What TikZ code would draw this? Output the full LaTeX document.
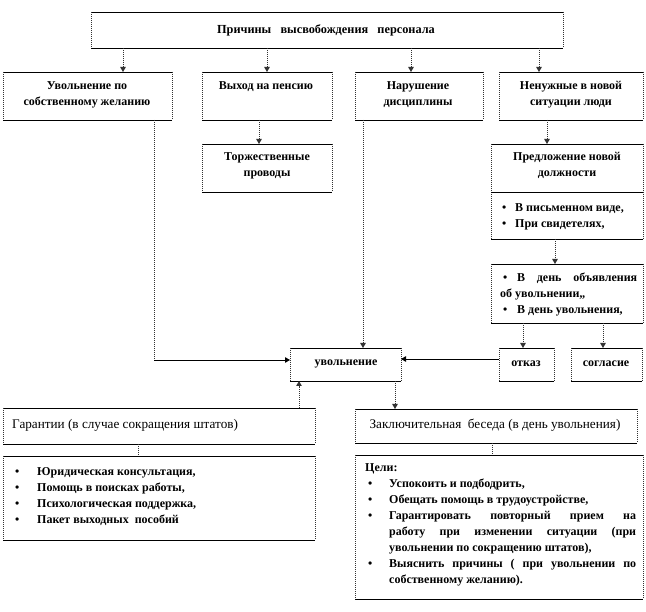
\documentclass[tikz,border=0pt]{standalone}
\usepackage{fontspec}
\setmainfont{Liberation Serif}
\usetikzlibrary{arrows.meta,fit}
\newcommand\hitem[1]{\noindent\hangindent=#1\hangafter=1\makebox[#1][l]{\hspace{3pt}•}}
\begin{document}
\begin{tikzpicture}[x=1pt,y=-1pt,
  hl/.style={draw=black, line width=0.9pt},
  vl/.style={draw=black!80, line width=0.9pt, dash pattern=on 1pt off 1pt},
  bx/.style={inner sep=0pt, outer sep=0pt, append after command={
     (\tikzlastnode.north west) edge[hl] (\tikzlastnode.north east)
     (\tikzlastnode.south west) edge[hl] (\tikzlastnode.south east)
     (\tikzlastnode.north west) edge[vl] (\tikzlastnode.south west)
     (\tikzlastnode.north east) edge[vl] (\tikzlastnode.south east)}},
  tip/.style={-{Triangle[length=5pt,width=5.5pt]}},
  vc/.style={vl, tip},
  hc/.style={hl, tip},
  tb/.style={inner sep=0pt, align=center, font=\bfseries\fontsize{12}{16}\selectfont},
  tr/.style={inner sep=0pt, align=left, font=\fontsize{13.2}{16}\selectfont},
  lst/.style={inner sep=0pt, align=justify, font=\bfseries\fontsize{12}{16}\selectfont}
]
\useasboundingbox[fill=white] (0,0) rectangle (646,612);

% boxes
\node[bx, fit={(91,12)(563,48)}] (top) {};
\node[bx, fit={(3,72)(172,120)}] (b1) {};
\node[bx, fit={(202,72)(332,120)}] (b2) {};
\node[bx, fit={(355,72)(483,120)}] (b3) {};
\node[bx, fit={(499,72)(643,120)}] (b4) {};
\node[bx, fit={(202,144)(332,192)}] (b5) {};
\node[bx, fit={(491,144)(643,239)}] (b6) {};
\node[bx, fit={(491,264)(643,323)}] (b7) {};
\node[bx, fit={(499,348)(554,381)}] (ot) {};
\node[bx, fit={(571,348)(642,381)}] (sg) {};
\node[bx, fit={(290,348)(401,381)}] (uv) {};
\node[bx, fit={(3,408)(315,444)}] (gr) {};
\node[bx, fit={(3,456)(315,540)}] (gl) {};
\node[bx, fit={(355,409)(637,443)}] (zb) {};
\node[bx, fit={(355,455)(643,599)}] (cl) {};

% divider in b6
\coordinate (dv) at (0,192);
\draw[hl] (b6.west |- dv) -- (b6.east |- dv);

% texts
\node[tb, font=\bfseries\fontsize{12.3}{16}\selectfont] (ttop) at (326,30) {Причины\ \ \ высвобождения\ \ \ персонала};
\node[tb] (t1) at (87,95) {Увольнение по\\собственному желанию};
\node[tb] (t2) at (266,87) {Выход на пенсию};
\node[tb] (t3) at (418,95) {Нарушение\\дисциплины};
\node[tb] (t4) at (571,95) {Ненужные в новой\\ситуации люди};
\node[tb] (t5) at (267,166) {Торжественные\\проводы};
\node[tb] (t6) at (567,165) {Предложение новой\\должности};
\node[lst, anchor=base west, text width=140pt] (t6b) at (499,212)
  {\hitem{16pt}В письменном виде,\par\hitem{16pt}При свидетелях,\par};
\node[lst, anchor=base west, text width=137pt] (t7) at (500,282)
  {\noindent\makebox[17pt][l]{\hspace{3pt}•}В\ \ день\ \ объявления\linebreak об увольнении,,\par
   \noindent\makebox[17pt][l]{\hspace{3pt}•}В день увольнения,\par};
\node[tb] (tot) at (526,364) {отказ};
\node[tb] (tsg) at (606,364) {согласие};
\node[tb] (tuv) at (346,364) {увольнение};
\node[tr, anchor=base west] (tgr) at (12,429) {Гарантии (в случае сокращения штатов)};
\node[tr, anchor=base] (tzb) at (495,429) {Заключительная\ \ беседа (в день увольнения)};
\node[lst, anchor=base west, text width=290pt] (tgl) at (12,476)
  {\hitem{25pt}Юридическая консультация,\par\hitem{25pt}Помощь в поисках работы,\par\hitem{25pt}Психологическая поддержка,\par\hitem{25pt}Пакет выходных\ \ пособий\par};
\node[lst, anchor=base west, text width=271pt] (tcl) at (365,472)
  {\noindent Цели:\par\hitem{24pt}Успокоить и подбодрить,\par\hitem{24pt}Обещать помощь в трудоустройстве,\par\hitem{24pt}Гарантировать повторный прием на\linebreak работу при изменении ситуации (при\linebreak увольнении по сокращению штатов),\par\hitem{24pt}Выяснить причины ( при увольнении по\linebreak собственному желанию).\par};

% connector x positions
\coordinate (a1) at (123,0);
\coordinate (a2) at (267,0);
\coordinate (a3) at (411,0);
\coordinate (a4) at (539,0);
\coordinate (a5) at (259,0);
\coordinate (a6) at (547,0);
\coordinate (a7) at (555,0);
\coordinate (a8) at (523,0);
\coordinate (a9) at (603,0);
\coordinate (a10) at (154,0);
\coordinate (a11) at (363,0);
\coordinate (a12) at (395,0);
\coordinate (a13) at (299,0);
\coordinate (a14) at (138,0);
\coordinate (a15) at (492,0);
\coordinate (h1) at (0,360);
\coordinate (h2) at (0,359);

\draw[vc] (top.south -| a1) -- (b1.north -| a1);
\draw[vc] (top.south -| a2) -- (b2.north -| a2);
\draw[vc] (top.south -| a3) -- (b3.north -| a3);
\draw[vc] (top.south -| a4) -- (b4.north -| a4);
\draw[vc] (b2.south -| a5) -- (b5.north -| a5);
\draw[vc] (b4.south -| a6) -- (b6.north -| a6);
\draw[vc] (b6.south -| a7) -- (b7.north -| a7);
\draw[vc] (b7.south -| a8) -- (ot.north -| a8);
\draw[vc] (b7.south -| a9) -- (sg.north -| a9);
\draw[vl] (b1.south -| a10) -- (a10 |- h1);
\draw[hc] (a10 |- h1) -- (uv.west |- h1);
\draw[vc] (b3.south -| a11) -- (uv.north -| a11);
\draw[hc] (ot.west |- h2) -- (uv.east |- h2);
\draw[vc] (uv.south -| a12) -- (zb.north -| a12);
\draw[vc] (gr.north -| a13) -- (uv.south -| a13);
\draw[vl] (gr.south -| a14) -- (gl.north -| a14);
\draw[vl] (zb.south -| a15) -- (cl.north -| a15);
\end{tikzpicture}
\end{document}
